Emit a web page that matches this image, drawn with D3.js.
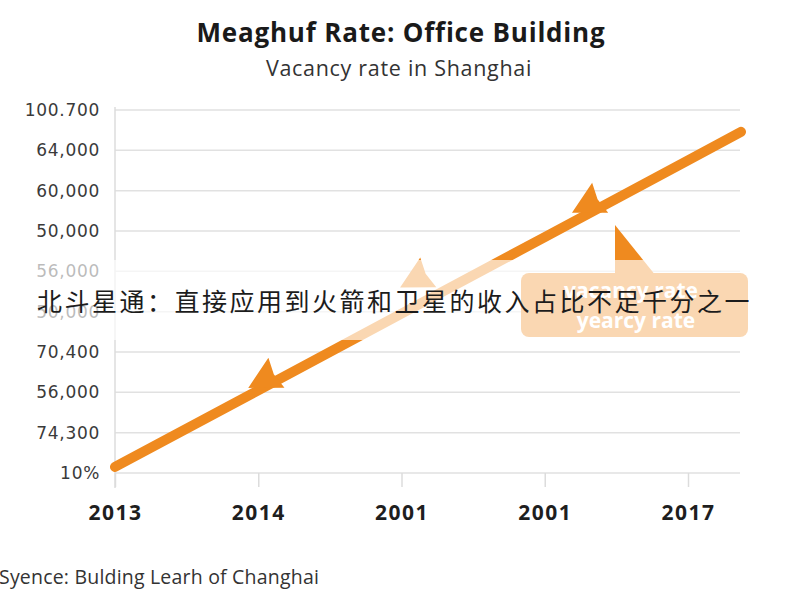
<!DOCTYPE html>
<html><head><meta charset="utf-8">
<script src="https://cdn.jsdelivr.net/npm/d3@7"></script>
<style>html,body{margin:0;padding:0;background:#fff;}svg{display:block;}</style>
</head><body>
<svg id="c" width="800" height="600"></svg>
<script>
// ---- data ----
const xCategories = ["2013", "2014", "2001", "2001", "2017"];
const yTickLabels = ["10%", "74,300", "56,000", "70,400", "50,000", "56,000", "50,000", "60,000", "64,000", "100.700"];
const lineIdx    = [0, 1, 2, 3, 4, 4.37];
const lineValues = [0.15, 2.05, 3.95, 5.85, 7.75, 8.46];
const arrowIdx    = [0.93, 1.99, 3.19];
const arrowValues = [2.11, 4.6, 6.45];
const title = "Meaghuf Rate: Office Building";
const subtitle = "Vacancy rate in Shanghai";
const source = "Syence: Bulding Learh of Changhai";
const boxLines = ["vacancy rate", "yearcy rate"];
const overlay = "北斗星通：直接应用到火箭和卫星的收入占比不足千分之一";

const orange = "#ef8a1f";
const svg = d3.select("#c");
const x = d3.scaleLinear().domain([0, 4]).range([115, 688]);
const y = d3.scaleLinear().domain([0, 9]).range([473, 110]);

// titles
svg.append("text").attr("x", 401).attr("y", 42).attr("text-anchor", "middle")
  .style("font-family", "Open Sans").style("font-weight", 700).style("font-size", "26px")
  .style("letter-spacing", "0.8px").attr("fill", "#1a1a1a").text(title);
svg.append("text").attr("x", 399).attr("y", 76).attr("text-anchor", "middle")
  .style("font-family", "Open Sans").style("font-size", "21.5px").style("letter-spacing", "0.7px")
  .attr("fill", "#333").text(subtitle);

// grid
const g = svg.append("g");
g.selectAll("line.grid").data(d3.range(yTickLabels.length)).join("line")
  .attr("x1", x(0)).attr("x2", 740).attr("y1", d => y(d)).attr("y2", d => y(d))
  .attr("stroke", "#e1e1e1").attr("stroke-width", 1.5);
g.append("line").attr("x1", x(0)).attr("x2", x(0)).attr("y1", 107).attr("y2", 488)
  .attr("stroke", "#dcdcdc").attr("stroke-width", 1.5);

// y labels
g.selectAll("text.yl").data(yTickLabels).join("text")
  .attr("x", 100).attr("y", (d, i) => y(i)).attr("dy", "0.36em").attr("text-anchor", "end")
  .style("font-family", "DejaVu Sans").style("font-size", "17px").style("letter-spacing", "0.7px")
  .attr("fill", "#3a3a3a").text(d => d);

// x axis
const xAxis = d3.axisBottom(x).tickValues(d3.range(xCategories.length))
  .tickFormat(i => xCategories[i]).tickSize(14).tickPadding(18);
const ax = svg.append("g").attr("transform", `translate(0,${y(0)})`).call(xAxis);
ax.select(".domain").remove();
ax.selectAll(".tick line").attr("stroke", "#dcdcdc").attr("stroke-width", 1.5);
ax.selectAll(".tick text").style("font-family", "Open Sans").style("font-weight", 700)
  .style("font-size", "21px").style("letter-spacing", "1.5px").attr("fill", "#1e1e1e");

// line
const pts = lineIdx.map((d, i) => [d, lineValues[i]]);
svg.append("path").datum(pts)
  .attr("d", d3.line().x(d => x(d[0])).y(d => y(d[1])))
  .attr("fill", "none").attr("stroke", orange).attr("stroke-width", 10).attr("stroke-linecap", "round");

// arrows (pointing down-left along line)
const ang = Math.atan2(y(lineValues[5]) - y(lineValues[0]), x(lineIdx[5]) - x(lineIdx[0])) * 180 / Math.PI;
svg.selectAll("path.arrow").data(arrowIdx.map((d, i) => [d, arrowValues[i]])).join("path")
  .attr("d", "M0,0 L32,-17 L29,0 L32,17 Z")
  .attr("transform", d => `translate(${x(d[0])},${y(d[1])}) rotate(${ang})`)
  .attr("fill", orange);

// tooltip box
svg.append("path").attr("d", "M615,225 L615,276 L656,276 Z").attr("fill", orange);
svg.append("rect").attr("x", 521).attr("y", 273).attr("width", 227).attr("height", 64).attr("rx", 8)
  .attr("fill", orange);
svg.selectAll("text.box").data(boxLines).join("text")
  .attr("x", (d, i) => i ? 636 : 631).attr("y", (d, i) => 298 + i * 30).attr("text-anchor", "middle")
  .style("font-family", "Open Sans").style("font-weight", 700).style("font-size", "21px")
  .attr("fill", "#fff").text(d => d);

// white band
svg.append("rect").attr("x", 0).attr("y", 260).attr("width", 800).attr("height", 80)
  .attr("fill", "#fff").attr("opacity", 0.66);

// overlay text
svg.append("text").attr("x", 37).attr("y", 311)
  .style("font-family", "Noto Sans CJK SC").style("font-size", "25px").style("letter-spacing", "2.5px")
  .attr("fill", "#1c1c1c").text(overlay);

// source
svg.append("text").attr("x", -1).attr("y", 584)
  .style("font-family", "Open Sans").style("font-size", "19.5px").style("letter-spacing", "0.2px")
  .attr("fill", "#333").text(source);
</script>
</body></html>
